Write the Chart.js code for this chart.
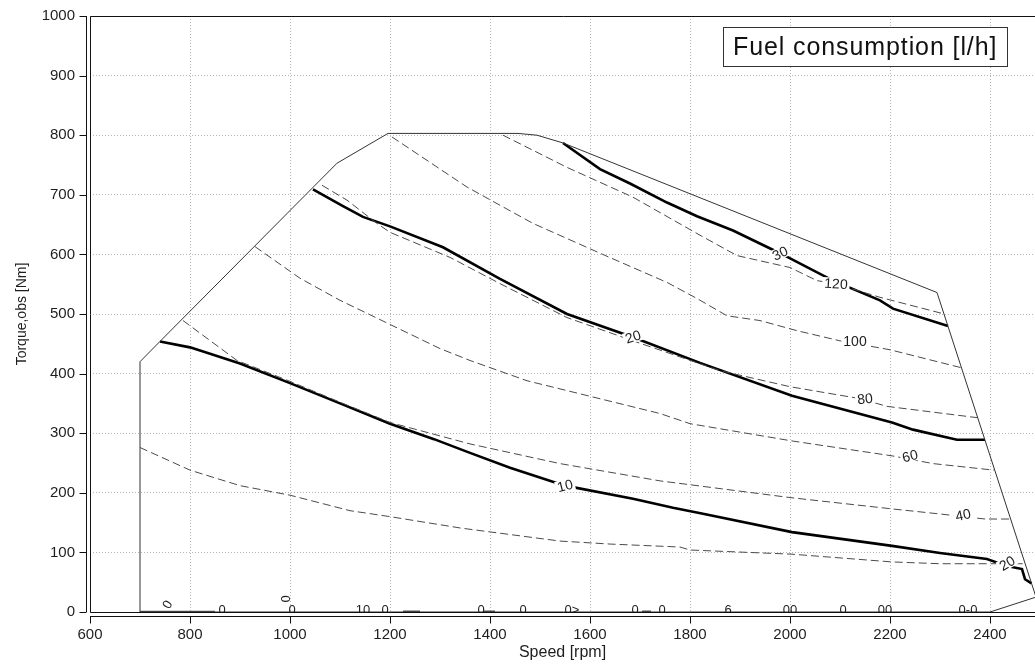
<!DOCTYPE html>
<html>
<head>
<meta charset="utf-8">
<script src="https://cdn.jsdelivr.net/npm/chart.js@4"></script>
<style>
  html, body { margin: 0; padding: 0; background: #fff; }
  #wrap { width: 1035px; height: 665px; position: relative; }
</style>
</head>
<body>
<div id="wrap"><canvas id="chart"></canvas></div>
<script>
// ejes
const speedTicks = [600, 800, 1000, 1200, 1400, 1600, 1800, 2000, 2200, 2400];
const torqueTicks = [0, 100, 200, 300, 400, 500, 600, 700, 800, 900, 1000];

// envolvente (par maximo)
const envX = [700, 700, 740, 1094, 1196, 1456, 1494, 1546, 2294, 2492, 2400, 700];
const envY = [0, 420, 454, 753, 803, 803, 800, 787, 536, 25, 0, 0];

// isolineas gruesas
const b10X = [740, 800, 834, 900, 1000, 1100, 1200, 1288, 1360, 1440, 1550, 1686, 1766, 1826, 2004, 2204, 2300, 2394, 2434, 2464, 2470, 2483];
const b10Y = [454, 444, 435, 417, 384, 350, 316, 290, 267, 242, 212, 190, 175, 165, 134, 111, 99, 89, 77, 72, 55, 48];
const b20X = [1046, 1106, 1146, 1200, 1306, 1420, 1554, 1686, 1820, 2004, 2204, 2246, 2334, 2390];
const b20Y = [709, 681, 663, 647, 612, 559, 500, 461, 418, 363, 318, 306, 289, 289];
const b30X = [1546, 1620, 1680, 1754, 1814, 1886, 1980, 2086, 2180, 2206, 2316];
const b30Y = [787, 743, 719, 687, 664, 640, 602, 556, 523, 509, 480];

// consumo de combustible [l/h] (discontinuas)
const d20X = [700, 800, 900, 1000, 1120, 1200, 1340, 1540, 1640, 1780, 1800, 2004, 2204, 2300, 2406, 2470];
const d20Y = [276, 238, 212, 196, 170, 160, 141, 119, 114, 109, 104, 97, 84, 81, 81, 81];
const d40X = [786, 894, 1000, 1100, 1200, 1360, 1540, 1740, 2000, 2204, 2294, 2390, 2441];
const d40Y = [489, 422, 387, 352, 318, 282, 249, 220, 192, 173, 165, 156, 156];
const d60X = [930, 1020, 1100, 1300, 1360, 1474, 1740, 1800, 2004, 2204, 2286, 2408];
const d60Y = [613, 560, 523, 442, 422, 388, 333, 316, 287, 262, 249, 238];
const d80X = [1064, 1114, 1174, 1200, 1320, 1420, 1554, 1686, 1860, 2000, 2140, 2194, 2375];
const d80Y = [716, 691, 652, 637, 595, 551, 494, 455, 405, 378, 358, 345, 326];
const d100X = [1204, 1354, 1486, 1620, 1754, 1814, 1874, 1940, 2014, 2100, 2200, 2342];
const d100Y = [797, 713, 652, 602, 553, 526, 497, 489, 472, 455, 440, 410];
const d120X = [1426, 1554, 1686, 1814, 1894, 2000, 2054, 2090, 2180, 2304];
const d120Y = [800, 746, 696, 635, 598, 578, 556, 551, 528, 501];

// segmentos en cero
const zeroSegX = [700, 850, null, 1226, 1260, null, 1388, 1410, null, 1704, 1722];
const zeroSegY = [0.6, 0.6, null, 1, 1, null, 1, 1, null, 1, 1];

// etiquetas de isolineas
const labelX = [1550, 1686, 1980, 2434, 2346, 2240, 2150, 2130, 2092];
const labelY = [212, 462, 602, 82, 163, 262, 358, 455, 551];
const labelTxt = ['10', '20', '30', '20', '40', '60', '80', '100', '120'];
const labelRot = [-14, -18, -25, -30, -12, -14, -6, 0, 3];

// etiquetas "0" en el borde inferior
const zeroLblX = [756, 864, 990, 1004, 1146, 1190, 1382, 1466, 1564, 1690, 1744, 1876, 2000, 2106, 2190, 2356];
const zeroLblY = [12, 3, 22, 3, 3, 3, 3, 3, 3, 3, 3, 3, 3, 3, 3, 3];
const zeroLblTxt = ['0', '0', '0', '0', '10', '0', '0', '0', '0>', '0', '0', '6', '00', '0', '00', '0-0'];
const zeroLblRot = [-60, 0, 90, 0, 0, 0, 0, 0, 0, 0, 0, 0, 0, 0, 0, 0];

const FONT = '"Liberation Sans", Arial, sans-serif';
const TXT = '#1e1e1e';
const PLOT_TOP = 16;

function pts(xs, ys) {
    return xs.map((x, i) => ({ x: x, y: ys[i] }));
}

function lineSet(xs, ys, color, width, dash) {
    return {
        data: pts(xs, ys),
        showLine: true,
        borderColor: color,
        borderWidth: width,
        borderDash: dash || [],
        pointRadius: 0,
        tension: 0,
        fill: false
    };
}

// corrige la posicion superior del area de dibujo
const ajustePlugin = {
    id: 'ajuste',
    afterLayout(chart) {
        const diff = chart.chartArea.top - PLOT_TOP;
        if (Math.abs(diff) > 0.5 && !chart.$ajustado) {
            chart.$ajustado = true;
            chart.options.layout.padding.top -= diff;
            chart.update();
        }
    }
};

// ejes al estilo R, marco y textos
const marcoPlugin = {
    id: 'marco',
    afterDatasetsDraw(chart) {
        const ctx = chart.ctx;
        const a = chart.chartArea;
        const sx = chart.scales.x;
        const sy = chart.scales.y;

        // etiquetas de isolineas
        ctx.save();
        ctx.font = '14px ' + FONT;
        ctx.textAlign = 'center';
        ctx.textBaseline = 'middle';
        labelTxt.forEach((t, i) => {
            const px = sx.getPixelForValue(labelX[i]);
            const py = sy.getPixelForValue(labelY[i]);
            ctx.save();
            ctx.translate(px, py);
            ctx.rotate(labelRot[i] * Math.PI / 180);
            const w = ctx.measureText(t).width;
            ctx.fillStyle = '#fff';
            ctx.fillRect(-w / 2 - 2, -6, w + 4, 12);
            ctx.fillStyle = TXT;
            ctx.fillText(t, 0, 1);
            ctx.restore();
        });
        ctx.restore();

        // ceros del borde
        ctx.save();
        ctx.beginPath();
        ctx.rect(a.left, a.top, a.right - a.left, a.bottom - a.top);
        ctx.clip();
        ctx.font = '13px ' + FONT;
        ctx.textAlign = 'center';
        ctx.textBaseline = 'middle';
        ctx.fillStyle = TXT;
        zeroLblTxt.forEach((t, i) => {
            ctx.save();
            ctx.translate(sx.getPixelForValue(zeroLblX[i]), sy.getPixelForValue(zeroLblY[i]));
            ctx.rotate(zeroLblRot[i] * Math.PI / 180);
            ctx.fillText(t, 0, 0);
            ctx.restore();
        });
        ctx.restore();

        // marco
        ctx.save();
        ctx.strokeStyle = '#111';
        ctx.lineWidth = 1;
        ctx.beginPath();
        ctx.moveTo(a.right + 2, a.top + 0.5);
        ctx.lineTo(a.left + 0.5, a.top + 0.5);
        ctx.lineTo(a.left + 0.5, a.bottom + 0.5);
        ctx.lineTo(a.right + 2, a.bottom + 0.5);
        ctx.stroke();

        // eje y
        const ax = a.left - 3.5;
        ctx.beginPath();
        ctx.moveTo(ax, sy.getPixelForValue(torqueTicks[0]));
        ctx.lineTo(ax, sy.getPixelForValue(torqueTicks[torqueTicks.length - 1]));
        torqueTicks.forEach(v => {
            const py = Math.round(sy.getPixelForValue(v)) + 0.5;
            ctx.moveTo(ax, py);
            ctx.lineTo(ax - 7, py);
        });
        // eje x
        const ay = a.bottom + 4.5;
        ctx.moveTo(sx.getPixelForValue(speedTicks[0]), ay);
        ctx.lineTo(a.right + 2, ay);
        speedTicks.forEach(v => {
            const px = Math.round(sx.getPixelForValue(v)) + 0.5;
            ctx.moveTo(px, ay);
            ctx.lineTo(px, ay + 7);
        });
        ctx.stroke();

        // leyenda / titulo
        const bw = 284, bh = 39;
        const bx = a.right - 28 - bw, by = a.top + 11;
        ctx.fillStyle = '#fff';
        ctx.fillRect(bx, by, bw, bh);
        ctx.strokeStyle = '#333';
        ctx.strokeRect(bx + 0.5, by + 0.5, bw, bh);
        ctx.fillStyle = '#111';
        ctx.font = '25px ' + FONT;
        ctx.textAlign = 'left';
        ctx.textBaseline = 'alphabetic';
        if ('letterSpacing' in ctx) ctx.letterSpacing = '0.9px';
        ctx.fillText('Fuel consumption [l/h]', bx + 10, by + 28);
        ctx.restore();
    }
};

document.addEventListener('DOMContentLoaded', function() {
    const ctx = document.getElementById('chart').getContext('2d');

    const gruesa = '#000';
    const disc = '#4a4a4a';
    const dash = [8, 4];

    new Chart(ctx, {
        type: 'scatter',
        data: {
            datasets: [
                lineSet(envX, envY, '#333', 1),
                lineSet(zeroSegX, zeroSegY, '#555', 2),
                lineSet(d20X, d20Y, disc, 1, dash),
                lineSet(d40X, d40Y, disc, 1, dash),
                lineSet(d60X, d60Y, disc, 1, dash),
                lineSet(d80X, d80Y, disc, 1, dash),
                lineSet(d100X, d100Y, disc, 1, dash),
                lineSet(d120X, d120Y, disc, 1, dash),
                lineSet(b10X, b10Y, gruesa, 2.6),
                lineSet(b20X, b20Y, gruesa, 2.6),
                lineSet(b30X, b30Y, gruesa, 2.6)
            ]
        },
        options: {
            responsive: true,
            maintainAspectRatio: false,
            animation: false,
            layout: { padding: { top: PLOT_TOP, right: 0, left: 0, bottom: 0 } },
            plugins: {
                legend: { display: false },
                tooltip: { enabled: false }
            },
            scales: {
                x: {
                    type: 'linear',
                    min: 600,
                    max: 2490,
                    afterFit: s => { s.height = 53; s.paddingRight = 0; },
                    afterBuildTicks: s => { s.ticks = speedTicks.map(v => ({ value: v })); },
                    border: { display: false, dash: [1, 2] },
                    grid: { color: '#b4b4b4', drawTicks: false, lineWidth: 1 },
                    ticks: {
                        padding: 14,
                        color: TXT,
                        font: { family: FONT, size: 15 },
                        maxRotation: 0,
                        autoSkip: false,
                        callback: v => String(v)
                    },
                    title: {
                        display: true,
                        text: 'Speed [rpm]',
                        color: TXT,
                        font: { family: FONT, size: 16 },
                        padding: { top: 0, bottom: 3 }
                    }
                },
                y: {
                    type: 'linear',
                    min: 0,
                    max: 1000,
                    afterFit: s => { s.width = 90; s.paddingTop = 0; s.paddingBottom = 0; },
                    afterBuildTicks: s => { s.ticks = torqueTicks.map(v => ({ value: v })); },
                    border: { display: false, dash: [1, 2] },
                    grid: { color: '#b4b4b4', drawTicks: false, lineWidth: 1 },
                    ticks: {
                        padding: 15,
                        color: TXT,
                        font: { family: FONT, size: 15 },
                        autoSkip: false,
                        callback: v => String(v)
                    },
                    title: {
                        display: true,
                        text: 'Torque,obs [Nm]',
                        color: TXT,
                        font: { family: FONT, size: 14 },
                        padding: { top: 14, bottom: 0 }
                    }
                }
            }
        },
        plugins: [ajustePlugin, marcoPlugin]
    });
});
</script>
</body>
</html>
